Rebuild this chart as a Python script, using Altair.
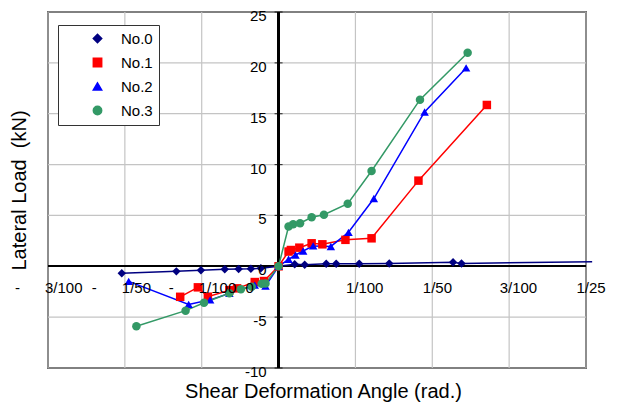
import altair as alt
import pandas as pd

# ---------------- data ----------------
series_names = ["No.0", "No.1", "No.2", "No.3"]
series_colors = ["#000080", "#FF0000", "#0000FF", "#339966"]
series_shapes = ["diamond", "square", "triangle-up", "circle"]

no0_x = [-0.0204, -0.0133, -0.0101, -0.0070, -0.0052, -0.0036, -0.0023, 0.0,
         0.0021, 0.0034, 0.0062, 0.0075, 0.0105, 0.0144, 0.0227, 0.0238, 0.0408]
no0_y = [-0.69, -0.50, -0.38, -0.28, -0.26, -0.25, -0.20, 0.0,
         0.20, 0.15, 0.25, 0.25, 0.25, 0.28, 0.40, 0.28, 0.45]
no0_marker = [1] * 16 + [0]

no1_x = [-0.0128, -0.0105, -0.0092, -0.0064, -0.0054, -0.0031, -0.0019, 0.0,
         0.0013, 0.0016, 0.0027, 0.0043, 0.0057, 0.0087, 0.0121, 0.0182, 0.0271]
no1_y = [-3.00, -2.07, -2.99, -2.35, -2.17, -1.55, -1.45, 0.0,
         1.45, 1.60, 1.83, 2.26, 2.16, 2.60, 2.75, 8.42, 15.86]

no2_x = [-0.0195, -0.0117, -0.0089, -0.0064, -0.0031, -0.0017, 0.0,
         0.0013, 0.0022, 0.0032, 0.0045, 0.0068, 0.0091, 0.0124, 0.0190, 0.0244]
no2_y = [-1.48, -3.75, -3.30, -2.66, -1.85, -1.94, 0.0,
         0.69, 1.11, 1.50, 2.00, 1.95, 3.34, 6.66, 15.17, 19.50]

no3_x = [-0.0185, -0.0121, -0.0097, -0.0064, -0.0049, -0.0035, -0.0022, -0.0017, 0.0,
         0.0013, 0.0019, 0.0028, 0.0043, 0.0059, 0.0090, 0.0121, 0.0184, 0.0246]
no3_y = [-5.90, -4.36, -3.58, -2.65, -2.26, -2.00, -1.72, -1.70, 0.0,
         3.90, 4.13, 4.23, 4.82, 5.07, 6.15, 9.37, 16.38, 21.00]

x_grid_values = [-0.03, -0.02, -0.01, 0.0, 0.01, 0.02, 0.03, 0.04]
NB = "\u00a0"
x_neg_values = [-0.03, -0.02, -0.01, 0.0]
x_neg_labels = ["-" + NB * 6 + "3/100", "-" + NB * 6 + "1/50", "-" + NB * 6 + "1/100", "0"]
x_pos_values = [0.01, 0.02, 0.03, 0.04]
x_pos_labels = ["1/100", "1/50", "3/100", "1/25"]
y_values = [-10, -5, 0, 5, 10, 15, 20, 25]
y_labels = ["-10", "-5", "0", "5", "10", "15", "20", "25"]

# ---------------- tables ----------------
rows = []
for name, xs, ys, ms in [
    ("No.0", no0_x, no0_y, no0_marker),
    ("No.1", no1_x, no1_y, [1] * len(no1_x)),
    ("No.2", no2_x, no2_y, [1] * len(no2_x)),
    ("No.3", no3_x, no3_y, [1] * len(no3_x)),
]:
    for xv, yv, mv in zip(xs, ys, ms):
        rows.append({"series": name, "x": xv, "y": yv, "marker": mv})
df = pd.DataFrame(rows)

xgrid_df = pd.DataFrame({"v": x_grid_values})
xneg_df = pd.DataFrame({"v": x_neg_values, "lab": x_neg_labels})
xpos_df = pd.DataFrame({"v": x_pos_values, "lab": x_pos_labels})
ylab_df = pd.DataFrame({"v": y_values, "lab": y_labels})

FONT = "Liberation Sans"

x_scale = alt.Scale(domain=[-0.03, 0.04], nice=False, zero=False)
y_scale = alt.Scale(domain=[-10, 25], nice=False, zero=False)
color_scale = alt.Scale(domain=series_names, range=series_colors)
shape_scale = alt.Scale(domain=series_names, range=series_shapes)

x_axis = alt.Axis(values=x_grid_values, grid=False, labels=False, ticks=False, domain=False,
                  title="Shear Deformation Angle (rad.)", titleFont=FONT, titleFontSize=20,
                  titleFontWeight="normal", titleColor="black", titlePadding=13, titleX=275)
y_axis = alt.Axis(values=y_values, grid=False, labels=False, ticks=False, domain=False,
                  title="Lateral Load" + NB + " (kN)", titleFont=FONT, titleFontSize=20,
                  titleFontWeight="normal", titleColor="black", titlePadding=19)

legend = alt.Legend(
    title=None, orient="none", legendX=10, legendY=13, padding=6,
    fillColor="white", strokeColor="#333333",
    labelFont=FONT, labelFontSize=15, labelColor="black",
    labelOffset=16, symbolOffset=26, symbolSize=70, rowPadding=8,
    symbolStrokeWidth=1.5, symbolOpacity=1,
    labelExpr="datum.label + '" + NB * 3 + "'",
)

base = alt.Chart(df)
X = alt.X("x:Q", scale=x_scale, axis=x_axis)
Y = alt.Y("y:Q", scale=y_scale, axis=y_axis)

xgrid = alt.Chart(xgrid_df).mark_rule(color="#c4c4c4", strokeWidth=1.2).encode(
    x=alt.X("v:Q", scale=x_scale, axis=x_axis))
ygrid = alt.Chart(ylab_df).mark_rule(color="#c4c4c4", strokeWidth=1.2).encode(
    y=alt.Y("v:Q", scale=y_scale, axis=y_axis))

hrule = alt.Chart(df).mark_rule(color="black", strokeWidth=1.3).encode(
    y=alt.YDatum(0, scale=y_scale, axis=y_axis))
vrule = alt.Chart(df).mark_rule(color="black", strokeWidth=1.3).encode(
    x=alt.XDatum(0, scale=x_scale, axis=x_axis))

yticks = alt.Chart(ylab_df).mark_tick(orient="horizontal", size=8, thickness=1.2, color="black").encode(
    x=alt.XDatum(0, scale=x_scale, axis=x_axis),
    y=alt.Y("v:Q", scale=y_scale, axis=y_axis))

lines = base.mark_line(strokeWidth=1.5).encode(
    x=X, y=Y,
    color=alt.Color("series:N", scale=color_scale, legend=legend),
)

points = base.transform_filter("datum.marker == 1").mark_point(
    filled=True, opacity=1, size=72).encode(
    x=X, y=Y,
    color=alt.Color("series:N", scale=color_scale, legend=legend),
    shape=alt.Shape("series:N", scale=shape_scale, legend=legend),
)

xlab_neg = alt.Chart(xneg_df).mark_text(align="left", baseline="middle", dx=-33, dy=22,
                                        font=FONT, fontSize=15, color="black").encode(
    x=alt.X("v:Q", scale=x_scale, axis=x_axis),
    y=alt.YDatum(0, scale=y_scale, axis=y_axis),
    text="lab:N")
xlab_pos = alt.Chart(xpos_df).mark_text(align="left", baseline="middle", dx=-9.5, dy=22,
                                        font=FONT, fontSize=15, color="black").encode(
    x=alt.X("v:Q", scale=x_scale, axis=x_axis),
    y=alt.YDatum(0, scale=y_scale, axis=y_axis),
    text="lab:N")
ylab = alt.Chart(ylab_df).mark_text(align="right", baseline="middle", dx=-12, dy=4,
                                    font=FONT, fontSize=15, color="black").encode(
    x=alt.XDatum(0, scale=x_scale, axis=x_axis),
    y=alt.Y("v:Q", scale=y_scale, axis=y_axis),
    text="lab:N")

chart = alt.layer(xgrid, ygrid, hrule, vrule, yticks, lines, points,
                  xlab_neg, xlab_pos, ylab).properties(
    width=538, height=356,
    padding={"left": 40, "top": 4, "right": 24, "bottom": 39},
    autosize=alt.AutoSizeParams(type="none"),
).configure_view(stroke="black", strokeWidth=1.5)

chart.save("out.html", embed_options={"renderer": "svg", "actions": False})
